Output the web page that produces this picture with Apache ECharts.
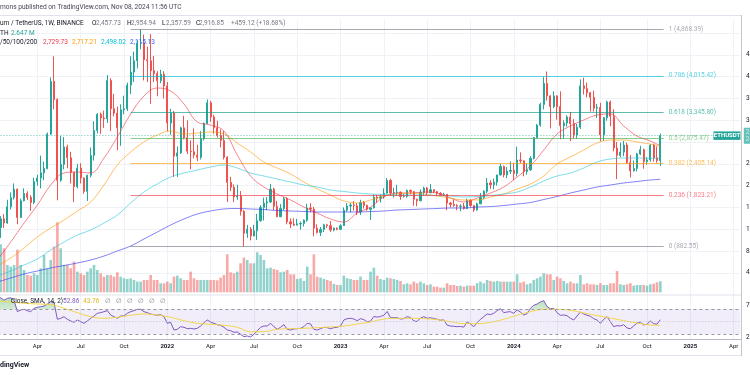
<!DOCTYPE html>
<html><head><meta charset="utf-8">
<script src="https://cdn.jsdelivr.net/npm/echarts@6/dist/echarts.min.js"></script>
<style>html,body{margin:0;padding:0;background:#fff}#c{width:750px;height:375px}</style>
</head><body><div id="c"></div>
<script>
// ---------- DATA ----------
const FIRST_WEEK = '2021-01-11';
const AXIS_WEEKS = 224;
const OPEN = [
1261,1230,1391,1314,1612,1780,1935,1416,1723,1855,
1785,1691,2075,2140,2235,2315,2945,3910,3580,2100,
2390,2710,2510,2245,1980,2320,2140,1895,2190,2555,
3010,3310,3240,3225,3930,3410,3330,3060,3390,3410,
3845,4085,4290,4610,4625,4310,4290,4110,4055,3925,
4045,3830,3150,3330,2540,2600,3060,2880,2630,2620,
2560,2520,2860,3140,3520,3260,3060,2920,2830,2520,
2060,1970,1790,1805,1530,1125,1200,1075,1170,1355,
1600,1680,1700,1935,1620,1430,1580,1760,1335,1295,
1275,1295,1305,1365,1590,1570,1220,1140,1195,1280,
1265,1185,1220,1200,1265,1550,1625,1645,1630,1515,
1690,1640,1565,1590,1790,1770,1795,1860,2095,1865,
1870,1880,1800,1805,1910,1890,1750,1720,1875,1955,
1870,1925,1890,1860,1830,1840,1680,1655,1635,1620,
1625,1580,1730,1635,1555,1665,1780,1895,2050,2015,
2065,2195,2350,2195,2265,2280,2220,2470,2455,2260,
2290,2500,2880,3110,3490,3875,3645,3450,3645,3450,
3100,3150,3260,3140,2930,3070,3830,3780,3705,3620,
3420,3435,2930,3245,3535,3270,2690,2555,2615,2745,
2425,2270,2315,2580,2660,2440,2470,2745,2510,2457.73];
const CLOSE = [
1230,1391,1314,1612,1780,1935,1416,1723,1855,1785,
1691,2075,2140,2235,2315,2945,3910,3580,2100,2390,
2710,2510,2245,1980,2320,2140,1895,2190,2555,3010,
3310,3240,3225,3930,3410,3330,3060,3390,3410,3845,
4085,4290,4610,4625,4310,4290,4110,4055,3925,4045,
3830,3150,3330,2540,2600,3060,2880,2630,2620,2560,
2520,2860,3140,3520,3260,3060,2920,2830,2520,2060,
1970,1790,1805,1530,1125,1200,1075,1170,1355,1600,
1680,1700,1935,1620,1430,1580,1760,1335,1295,1275,
1295,1305,1365,1590,1570,1220,1140,1195,1280,1265,
1185,1220,1200,1265,1550,1625,1645,1630,1515,1690,
1640,1565,1590,1790,1770,1795,1860,2095,1865,1870,
1880,1800,1805,1910,1890,1750,1720,1875,1955,1870,
1925,1890,1860,1830,1840,1680,1655,1635,1620,1625,
1580,1730,1635,1555,1665,1780,1895,2050,2015,2065,
2195,2350,2195,2265,2280,2220,2470,2455,2260,2290,
2500,2880,3110,3490,3875,3645,3450,3645,3450,3100,
3150,3260,3140,2930,3070,3830,3780,3705,3620,3420,
3435,2930,3245,3535,3270,2690,2555,2615,2745,2425,
2270,2315,2580,2660,2440,2470,2745,2510,2457.73,2916.85];
const HIGH = [
1290,1440,1476,1740,1875,2040,1945,1760,1950,1895,
1825,2145,2200,2550,2440,2975,3985,4372,3600,2910,
2890,2750,2620,2250,2400,2410,2150,2200,2700,3180,
3330,3340,3375,4030,3970,3680,3450,3490,3650,3890,
4375,4460,4665,4868.39,4770,4550,4780,4380,4100,4125,
4100,3900,3410,3370,2720,3080,3280,3200,2830,3050,
2750,3000,3160,3580,3555,3300,3190,3030,3000,2540,
2160,2020,2015,1900,1550,1280,1240,1280,1480,1640,
1780,1790,2030,1960,1720,1660,1790,1785,1400,1400,
1390,1340,1380,1665,1680,1610,1290,1240,1300,1300,
1350,1230,1230,1290,1600,1680,1680,1715,1680,1740,
1720,1650,1600,1840,1830,1840,1950,2140,2125,1960,
2015,1890,1850,1930,1930,1900,1760,1930,1980,1975,
2030,1930,1900,1880,1870,1850,1700,1745,1660,1660,
1680,1760,1750,1640,1690,1865,1915,2140,2100,2130,
2200,2400,2370,2340,2445,2420,2715,2610,2460,2400,
2540,2890,3130,3520,3990,4094,3660,3730,3660,3730,
3200,3290,3350,3220,3130,3950,3980,3890,3720,3740,
3500,3520,3260,3560,3560,3400,2800,2790,2820,2790,
2560,2460,2600,2730,2680,2520,2760,2770,2720,2954.94];
const LOW = [
1000,1040,1220,1300,1560,1745,1290,1410,1710,1735,
1540,1660,2000,1950,2100,2300,2930,3400,1730,2070,
2300,2320,2040,1700,1950,2040,1850,1718,2150,2460,
2960,2950,3060,3150,3000,3270,2650,2730,3310,3370,
3680,3900,4150,4500,3930,3900,3500,3900,3640,3880,
3600,3000,2930,2160,2160,2580,2850,2580,2300,2500,
2450,2480,2830,3130,3170,2950,2880,2700,2480,1700,
1900,1700,1740,1450,881.56,1040,995,1070,1005,1340,
1360,1550,1680,1550,1420,1420,1550,1290,1220,1260,
1270,1190,1250,1335,1510,1070,1120,1075,1150,1225,
1150,1160,1180,1190,1260,1520,1510,1540,1460,1460,
1580,1540,1370,1580,1680,1690,1760,1850,1810,1780,
1810,1740,1780,1780,1840,1630,1620,1720,1815,1820,
1860,1860,1820,1810,1810,1550,1600,1610,1550,1530,
1560,1570,1600,1520,1540,1660,1750,1860,1940,1930,
2000,2190,2150,2140,2215,2100,2170,2410,2170,2200,
2270,2480,2870,3080,3400,3560,3050,3420,3210,2850,
2860,3080,2815,2860,2860,3040,3670,3620,3360,3360,
3240,2810,2820,3190,3090,2630,2120,2520,2540,2400,
2150,2260,2260,2560,2310,2380,2440,2440,2420,2357.59];
// weekly volume, million ETH
const VOLUME = [
10.99,11.55,10.59,6.58,6.18,6.58,10.27,6.58,5.37,4.17,
4.01,4.57,4.17,5.77,8.98,5.77,7.78,10.99,16.84,10.59,
6.58,6.58,5.77,7.38,4.97,4.57,4.17,4.97,5.77,6.58,
5.37,4.57,3.77,4.17,4.17,3.77,4.81,3.77,3.37,3.21,
3.37,2.97,2.57,2.57,2.97,2.97,4.17,2.97,2.97,2.17,
2.17,2.57,2.17,3.77,4.01,3.37,2.97,2.97,4.97,3.37,
2.97,2.97,2.97,2.97,2.97,2.97,2.89,3.53,4.17,9.14,
4.81,4.57,4.97,6.98,8.34,7.78,6.98,6.98,9.62,8.98,
7.78,5.77,5.93,5.61,5.37,4.81,4.97,5.37,4.33,4.33,
3.21,3.37,2.73,6.18,4.33,9.14,3.77,3.53,3.21,2.97,
2.73,2.01,1.76,1.76,4.01,3.37,3.21,2.97,2.97,3.77,
2.97,2.97,4.97,5.93,4.01,3.21,2.97,3.53,3.37,3.21,
2.97,2.73,1.92,2.17,1.92,2.57,2.17,2.57,2.17,1.76,
1.92,1.36,1.36,1.12,1.12,2.17,1.76,1.76,1.52,1.60,
1.36,1.60,1.60,1.60,2.17,2.57,2.17,2.97,2.73,2.57,
2.73,2.57,2.57,2.57,2.57,2.57,4.33,2.33,2.57,1.92,
2.17,2.97,3.37,3.77,4.57,4.33,4.33,2.97,3.77,3.37,
2.73,2.17,2.57,2.17,2.17,4.17,1.92,2.17,1.92,1.92,
1.76,2.17,1.76,1.76,2.17,2.17,5.13,1.92,1.76,1.92,
2.17,1.60,1.76,1.76,1.76,1.60,1.92,2.09,2.41,2.647];
const RSI = [
87,88,84,87,88,84,65.7,68.4,69.5,67.3,
65.7,71,72.7,73.7,74.8,78,81.7,80.1,53.5,55,
57.7,53.5,50.8,48.7,52.4,49.7,47.1,50.8,55.1,58.8,
63.1,64.1,65.7,67.3,60.4,57.7,55.1,58.8,58.8,63.1,
65.7,67.3,69.5,69.5,65.7,64.1,62,60.9,59.9,60.9,
57.7,47.1,48.7,36.4,37.5,41.7,40.7,38.5,39.1,38,
39.1,42.8,48.1,52.4,49.2,47.1,44.9,43.9,40.7,36.4,
35.3,32.7,33.2,29.5,25.8,26.8,25.2,29.5,35.3,40.7,
42.8,42.8,47.1,41.7,37.5,40.7,44.9,37.5,36.4,38,
38.5,39.1,41.7,47.1,46,37.5,36.4,38.5,40.7,40.1,
38.5,40.1,40.7,42.8,52.4,54.5,55.1,54,51.3,54.5,
53,49.5,50.5,58,57,58,60,66,56,56.1,
56.1,54,54.5,57.7,56.5,50.8,50,55.5,57.7,55.1,
56,54.8,53.5,52,52.5,44,42.8,42.3,41.7,42,
41,49.2,46,41.7,48.1,53.5,57.7,62,61,63.1,
67.3,70.5,64.1,65.2,65.7,63.1,68.4,65.2,60.4,62.5,
71.1,75.9,78,81.2,83.3,73.7,70.5,71.1,64.1,59.9,
60.4,59.3,55.1,52.4,58.8,65.2,62,59.9,58.3,54.5,
52.4,47.1,53.5,57.7,49.7,41.7,43.3,42.8,44.9,39.6,
38.5,42.8,47.5,49,44.5,45.5,51,46.5,45.8,52.86];
// moving-average lines read at every 4th week
const SAMPLE_IDX = [0,4,8,12,16,20,24,28,32,36,40,44,48,52,56,60,64,68,72,76,80,84,88,92,96,
  100,104,108,112,116,120,124,128,132,136,140,144,148,152,156,160,164,168,172,176,180,184,188,192,196,199];
const MA20 = [635,965,1314,1644,2011,2231,2250,2232,2507,2892,3314,3644,3791,3736,3497,3167,3112,3002,2561,2176,
  1974,1846,1736,1607,1497,1387,1332,1497,1607,1791,1864,1864,1882,1864,1772,1699,1772,1864,1974,2158,
  2360,2653,2947,3094,3204,3295,3314,3094,2910,2818,2729.73];
const MA50 = [525,672,855,1057,1222,1369,1534,1699,2011,2378,2617,2800,2929,3002,2947,2965,2984,2947,2782,2617,
  2433,2323,2213,2066,1938,1828,1718,1681,1736,1809,1846,1864,1846,1809,1772,1736,1736,1791,1846,1938,
  2030,2176,2396,2525,2653,2782,2837,2837,2800,2763,2717.21];
const MA100 = [341,433,543,653,818,965,1093,1185,1314,1460,1681,1882,2030,2158,2231,2286,2341,2378,2323,2231,
  2176,2121,2066,2011,1974,1919,1892,1864,1846,1837,1827,1827,1827,1818,1809,1791,1800,1818,1846,1882,
  1974,2084,2176,2231,2323,2433,2488,2507,2507,2502,2498.02];
const MA200 = [231,304,378,433,488,534,580,635,708,800,892,1020,1148,1277,1387,1479,1534,1571,1580,1571,
  1561,1543,1534,1525,1516,1516,1516,1516,1525,1534,1552,1561,1571,1580,1589,1589,1607,1616,1635,1662,
  1690,1745,1800,1864,1919,1974,2011,2048,2075,2103,2115.13];
const RSI_MA = [82.8,81.2,79.1,78,77,71.1,64.1,57.7,55.1,56.7,59.9,62,60.4,56.7,51.3,47.1,45.5,43.9,40.7,33.5,
  33.8,37.5,38.5,39.1,40.1,41.2,42.8,46,49.2,54,55.1,55.1,54.5,53,49.7,46.5,46.5,48.7,53.5,59.9,
  65.7,69.5,69.5,67.9,63.6,59.4,55.6,51.3,47.6,44.4,43.76];
const FIB_LEVELS = ['1','0.786','0.618','0.5','0.382','0.236','0'];
const FIB_PRICES = [4868.39,4015.42,3345.80,2875.47,2405.14,1823.21,882.55];
const FIB_COLORS = ['#787b86','#00bcd4','#089981','#4caf50','#ff9800','#f23645','#787b86'];
const FIB_START_WEEK = 40, FIB_END_WEEK = 200;
const LAST_PRICE = 2916.85;
const QUARTER_NAMES = {3:'Apr',6:'Jul',9:'Oct'};

// ---------- BUILD ----------
const FONT = 'Roboto, "Open Sans", "DejaVu Sans", sans-serif';
const cats = [];
const d0 = Date.parse(FIRST_WEEK + 'T00:00:00Z');
for (let i = 0; i < AXIS_WEEKS; i++) cats.push(new Date(d0 + i * 7 * 864e5).toISOString().slice(0, 10));
const tickSet = new Set();
for (let i = 1; i < cats.length; i++) {
  const m = +cats[i].slice(5, 7) - 1, pm = +cats[i - 1].slice(5, 7) - 1;
  if (m !== pm && m % 3 === 0) tickSet.add(i);
}
const tickInterval = (idx) => tickSet.has(idx);
function fmt(v) { return v.toFixed(2).replace(/\B(?=(\d{3})+(?!\d))/g, ','); }

const UP = '#26a69a', DOWN = '#ef5350';
const candleData = OPEN.map((o, i) => [o, CLOSE[i], LOW[i], HIGH[i]]);
const volData = VOLUME.map((v, i) => ({ value: v, itemStyle: { color: CLOSE[i] >= OPEN[i] ? 'rgba(38,166,154,0.5)' : 'rgba(239,83,80,0.5)' } }));
const pairs = (arr) => SAMPLE_IDX.map((idx, k) => [cats[idx], arr[k]]);

const fibLines = FIB_PRICES.map((p, k) => [
  { coord: [cats[FIB_START_WEEK], p], lineStyle: { color: FIB_COLORS[k], width: 1, type: 'solid', opacity: 0.65 },
    label: { show: true, position: 'end', distance: 5, formatter: FIB_LEVELS[k] + ' (' + fmt(p) + ')', color: FIB_COLORS[k], fontSize: 6.5, fontFamily: FONT } },
  { coord: [cats[FIB_END_WEEK], p] }
]);
const priceLine = { yAxis: LAST_PRICE, lineStyle: { color: UP, type: [1, 2], width: 1, opacity: 0.7 },
  label: { show: true, position: 'end', distance: 3.5, formatter: fmt(LAST_PRICE) + '\n2d 12:03:26', color: '#fff', backgroundColor: UP, padding: [1, 2], fontSize: 6.5, lineHeight: 7, fontFamily: FONT } };

const xBase = (gi, extra) => Object.assign({
  type: 'category', gridIndex: gi, data: cats, boundaryGap: false,
  axisLine: { show: false }, axisTick: { show: false }, axisLabel: { show: false },
  splitLine: { show: true, interval: tickInterval, lineStyle: { color: '#eef1f6', width: 1 } }
}, extra || {});

const G = { left: -2.6, right: 9.7, outerBoundsMode: 'none', containLabel: false };
const TXT = [
  [0, 7, 'mons published on TradingView.com, Nov 08, 2024 11:56 UTC', '#434651', 'normal', 6.6],
  [0, 23, 'um / TetherUS, 1W, BINANCE', '#131722', 'normal', 6.5],
  [92, 23, 'O', '#131722', 'normal', 6.5], [96, 23, '2,457.73', '#787b86', 'normal', 6.5],
  [127, 23, 'H', '#131722', 'normal', 6.5], [131, 23, '2,954.94', '#787b86', 'normal', 6.5],
  [162, 23, 'L', '#131722', 'normal', 6.5], [166, 23, '2,357.59', '#787b86', 'normal', 6.5],
  [196, 23, 'C', '#131722', 'normal', 6.5], [199, 23, '2,916.85', '#787b86', 'normal', 6.5],
  [231, 23, '+459.12 (+18.68%)', '#787b86', 'normal', 6.5],
  [0, 33, 'TH', '#131722', 'normal', 6.5], [11, 33, '2.647 M', '#26a69a', 'normal', 6.5],
  [0, 42, '/50/100/200', '#131722', 'normal', 6.5],
  [43, 42, '2,729.73', '#f23645', 'normal', 6.5], [72, 42, '2,717.21', '#ff9800', 'normal', 6.5],
  [101, 42, '2,498.02', '#00bcd4', 'normal', 6.5], [130, 42, '2,115.13', '#2962ff', 'normal', 6.5],
  [11, 301.7, 'Close, SMA, 14, 2)', '#131722', 'normal', 6.5],
  [63, 301.7, '52.86', '#7e57c2', 'normal', 6.5], [83, 301.7, '43.76', '#e0b81c', 'normal', 6.5],
  [105, 301.7, '∅', '#787b86', 'normal', 6.5], [116, 301.7, '∅', '#787b86', 'normal', 6.5],
  [127, 301.7, '∅', '#787b86', 'normal', 6.5], [138, 301.7, '∅', '#787b86', 'normal', 6.5],
  [149, 301.7, '∅', '#787b86', 'normal', 6.5], [160, 301.7, '∅', '#787b86', 'normal', 6.5],
  [0, 365, 'dingView', '#131722', 'bold', 7]
];
const FRAME = [
  [0, 15.5, 742, 15.5, '#e0e3eb'], [0, 295, 742, 295, '#e0e3eb'],
  [0, 339.5, 742, 339.5, '#b8bbc3'], [0, 355.5, 742, 355.5, '#e0e3eb'],
  [741.5, 15, 741.5, 356, '#c3c6ce']
];
const graphic = FRAME.map(f => ({ type: 'line', z: 1, silent: true, shape: { x1: f[0], y1: f[1], x2: f[2], y2: f[3] }, style: { stroke: f[4], lineWidth: 1 } }))
  .concat(TXT.map(t => ({ type: 'text', z: 100, silent: true, x: t[0], y: t[1],
    style: { text: t[2], fill: t[3], fontWeight: t[4], fontSize: t[5], fontFamily: FONT, verticalAlign: 'middle', align: 'left' } })));

// overbought fill: green only above the 70 band line of the RSI pane (pane spans y 295..339.3)
const obFill = new echarts.graphic.LinearGradient(0, 295, 0, 339.3, [
  { offset: 0, color: 'rgba(76,175,80,0.45)' },
  { offset: 0.315, color: 'rgba(76,175,80,0.25)' },
  { offset: 0.316, color: 'rgba(255,255,255,0)' },
  { offset: 1, color: 'rgba(255,255,255,0)' }
], true);

const chart = echarts.init(document.getElementById('c'), null, { renderer: 'canvas', width: 750, height: 375 });
chart.setOption({
  animation: false,
  backgroundColor: '#ffffff',
  textStyle: { fontFamily: FONT },
  grid: [
    Object.assign({ top: 20, height: 274.6 }, G),
    Object.assign({ top: 215, height: 77.3 }, G),
    Object.assign({ top: 295, height: 44.3 }, G)
  ],
  xAxis: [
    xBase(0),
    xBase(1, { splitLine: { show: false } }),
    xBase(2, { axisLabel: { show: true, interval: tickInterval, margin: 4.5, fontSize: 6, color: '#131722', fontFamily: FONT,
      formatter: (v) => { const m = +v.slice(5, 7) - 1; return m === 0 ? '{yr|' + v.slice(0, 4) + '}' : QUARTER_NAMES[m]; },
      rich: { yr: { fontWeight: 'bold', fontSize: 6, color: '#131722', fontFamily: FONT } } } })
  ],
  yAxis: [
    { type: 'value', gridIndex: 0, position: 'right', offset: 1.7, min: 0, max: 5039, interval: 400,
      axisLine: { show: false }, axisTick: { show: false },
      splitLine: { show: true, showMinLine: false, showMaxLine: false, lineStyle: { color: '#eef1f6' } },
      axisLabel: { margin: 4, fontSize: 6.5, color: '#131722', fontFamily: FONT, hideOverlap: false,
        formatter: (v) => (v >= 400 && v <= 4400 && v !== 2800) ? fmt(v) : '' } },
    { type: 'value', gridIndex: 1, min: 0, max: 18.6, show: false },
    { type: 'value', gridIndex: 2, position: 'right', offset: 1.7, min: 21.5, max: 92.4,
      axisLine: { show: false }, axisTick: { show: false }, splitLine: { show: false },
      axisLabel: { customValues: [25, 75], margin: 4, fontSize: 6.5, color: '#131722', fontFamily: FONT, formatter: (v) => v.toFixed(2) } }
  ],
  series: [
    { name: 'Volume', type: 'bar', xAxisIndex: 1, yAxisIndex: 1, data: volData, barWidth: '78%', z: 1, silent: true },
    { name: 'ETHUSDT', type: 'candlestick', xAxisIndex: 0, yAxisIndex: 0, data: candleData, barWidth: '50%', z: 3, silent: true,
      itemStyle: { color: UP, color0: DOWN, borderColor: UP, borderColor0: DOWN, borderWidth: 1 },
      markLine: { silent: true, symbol: ['none', 'none'], animation: false, data: fibLines.concat([priceLine]) },
      markPoint: { silent: true, animation: false, data: [{ coord: [cats[219], LAST_PRICE], symbol: 'rect', symbolSize: [27, 8.5],
        itemStyle: { color: UP }, label: { show: true, position: 'inside', formatter: 'ETHUSDT', color: '#fff', fontSize: 6, fontWeight: 'bold', fontFamily: FONT } }] } },
    { name: 'MA20', type: 'line', xAxisIndex: 0, yAxisIndex: 0, data: pairs(MA20), smooth: 0.4, showSymbol: false, z: 4, silent: true, lineStyle: { color: '#f23645', width: 1, opacity: 0.6 } },
    { name: 'MA50', type: 'line', xAxisIndex: 0, yAxisIndex: 0, data: pairs(MA50), smooth: 0.4, showSymbol: false, z: 4, silent: true, lineStyle: { color: '#ff9800', width: 1, opacity: 0.6 } },
    { name: 'MA100', type: 'line', xAxisIndex: 0, yAxisIndex: 0, data: pairs(MA100), smooth: 0.4, showSymbol: false, z: 4, silent: true, lineStyle: { color: '#26c6da', width: 1, opacity: 0.6 } },
    { name: 'MA200', type: 'line', xAxisIndex: 0, yAxisIndex: 0, data: pairs(MA200), smooth: 0.4, showSymbol: false, z: 4, silent: true, lineStyle: { color: '#3f3ff0', width: 1, opacity: 0.65 } },
    { name: 'RSI OB fill', type: 'line', xAxisIndex: 2, yAxisIndex: 2, data: RSI, showSymbol: false, z: 3, silent: true,
      lineStyle: { width: 0, opacity: 0 }, areaStyle: { origin: 'start', color: obFill, opacity: 1 } },
    { name: 'RSI', type: 'line', xAxisIndex: 2, yAxisIndex: 2, data: RSI, showSymbol: false, z: 4, silent: true, lineStyle: { color: '#7e57c2', width: 1 },
      markArea: { silent: true, itemStyle: { color: 'rgba(126,87,194,0.1)' }, data: [[{ yAxis: 30 }, { yAxis: 70 }]] },
      markLine: { silent: true, symbol: ['none', 'none'], label: { show: false }, animation: false,
        data: [ { yAxis: 70, lineStyle: { color: '#9598a1', type: [3, 3], width: 1 } },
                { yAxis: 30, lineStyle: { color: '#9598a1', type: [3, 3], width: 1 } },
                { yAxis: 50, lineStyle: { color: '#c3c6ce', type: [1, 2], width: 1 } } ] } },
    { name: 'RSI MA', type: 'line', xAxisIndex: 2, yAxisIndex: 2, data: pairs(RSI_MA), smooth: 0.4, showSymbol: false, z: 4, silent: true, lineStyle: { color: '#f2d54a', width: 1 } }
  ],
  graphic: graphic
});
</script></body></html>
